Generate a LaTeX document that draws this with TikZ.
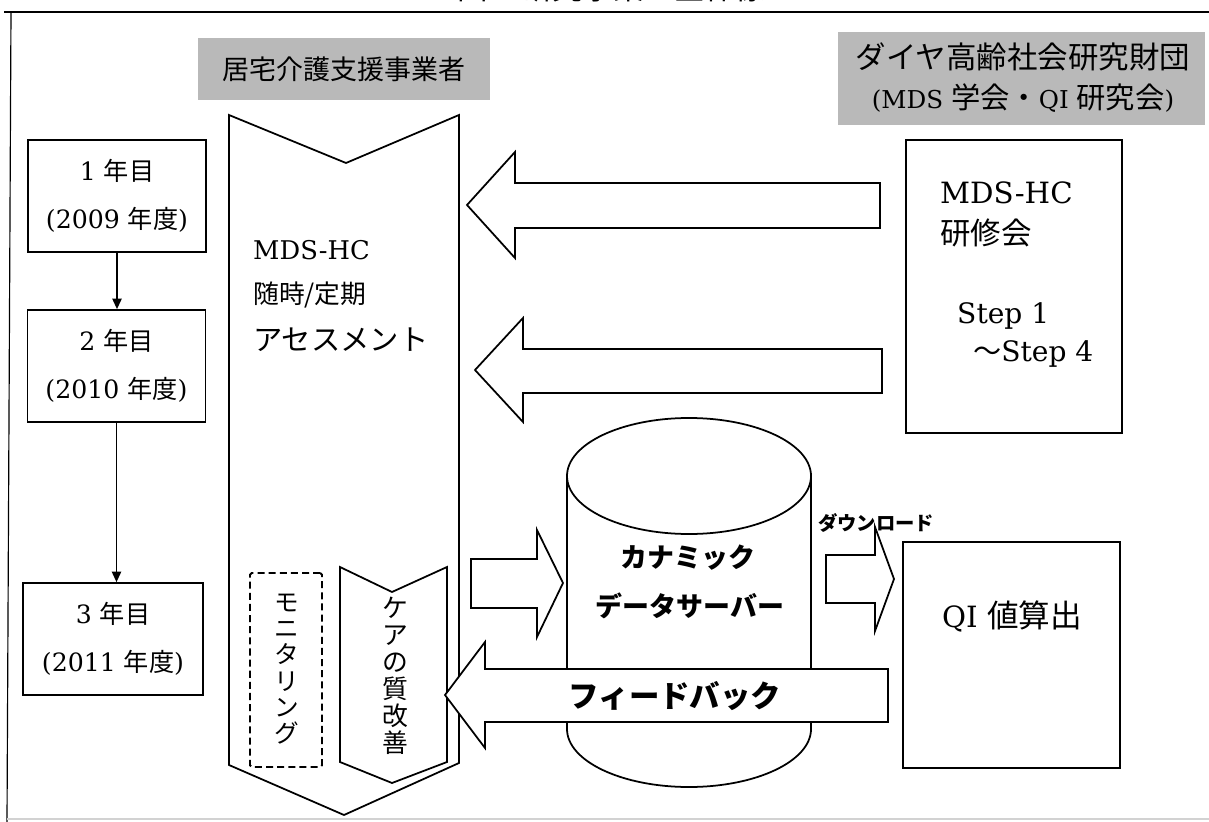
\documentclass[tikz,border=0pt]{standalone}
\usepackage{fontspec}
\setmainfont{DejaVu Serif}
\newfontfamily\jp{Noto Sans CJK JP}
\usetikzlibrary{arrows.meta,calc}
\begin{document}
\begin{tikzpicture}[x=0.03cm,y=-0.03cm,
  ln/.style={line width=1.5pt},
  yearbox/.style={draw, line width=1.5pt, minimum width=5.34cm, minimum height=3.36cm,
    align=center, inner sep=0pt, font=\fontsize{21.5}{41}\selectfont},
  graylabel/.style={fill=gray!55, inner sep=0pt, align=center},
  blockarrow/.style={draw, fill=white, line width=1.5pt, line join=miter},
  plain/.style={inner sep=0pt},
  vtext/.style={inner sep=0pt, align=center},
  flowarrow/.style={line width=1.3pt, -{Triangle[length=9pt,width=8pt]}}
]
\clip (0,0) rectangle (1209,822);
\useasboundingbox (0,0) rectangle (1209,822);
\fill[white] (0,0) rectangle (1209,822);

% title (cut off at top, as in the source)
\node[plain, font=\jp\fontsize{26}{30}\selectfont] (title) at (612,-12) {図\,1\,\ 研究事業の全体像};

% outer frame
\draw[line width=1.2pt] (4,12) -- (1209,12);
\draw[line width=1pt] (11,12) -- (7,822);
\draw[gray!35, line width=1pt] (7,819) -- (1209,819);

% gray headers
\node[graylabel, minimum width=8.76cm, minimum height=1.86cm,
  font=\jp\fontsize{23}{28}\selectfont] (org1) at (344,69) {居宅介護支援事業者};
\node[graylabel, minimum width=11.01cm, minimum height=2.79cm] (org2) at (1021.5,79) {};
\node[plain, font=\jp\fontsize{26}{30}\selectfont] (org2a) at (1023,57) {ダイヤ高齢社会研究財団};
\node[plain, font=\fontsize{21}{28}\selectfont] (org2b) at (1023,98) {(MDS {\jp\fontsize{25}{30}\selectfont 学会・}QI {\jp\fontsize{25}{30}\selectfont 研究会})};

% year boxes
\node[yearbox] (y1) at (117,196) {1 {\jp 年目}\\(2009 {\jp 年度})};
\node[yearbox] (y2) at (116.5,366) {2 {\jp 年目}\\(2010 {\jp 年度})};
\node[yearbox, minimum width=5.4cm] (y3) at (113,639) {3 {\jp 年目}\\(2011 {\jp 年度})};
\draw[flowarrow] (y1.south) -- (y1.south |- y2.north);
\draw[flowarrow] (y2.south) -- (y2.south |- y3.north);

% big chevron
\draw[ln, line join=miter] (229,115) -- (346,163) -- (459,115) -- (459,763) -- (344,815) -- (229,765) -- cycle;
\node[plain, anchor=west, font=\fontsize{22}{28}\selectfont] (a1) at (253,250) {MDS-HC};
\node[plain, anchor=west, font=\jp\fontsize{22}{28}\selectfont] (a2) at (253,295) {随時/定期};
\node[plain, anchor=west, font=\jp\fontsize{25}{28}\selectfont] (a3) at (253,340) {アセスメント};

% monitoring (dashed)
\node[draw, line width=1.6pt, dash pattern=on 6pt off 3.5pt, rounded corners=1.5pt,
  minimum width=2.16cm, minimum height=5.82cm, inner sep=0pt] (moni) at (286,670) {};
\node[vtext, font=\jp\fontsize{21}{22.4}\selectfont] (monit) at (287,669) {モ\\ニ\\タ\\リ\\ン\\グ};

% care quality chevron
\draw[ln, line join=miter] (340,567) -- (392,592) -- (447,567) -- (447,762) -- (392,783) -- (340,762) -- cycle;
\node[vtext, font=\jp\fontsize{22}{23}\selectfont] (care) at (395,676) {ケ\\ア\\の\\質\\改\\善};

% training box
\node[draw, ln, minimum width=6.48cm, minimum height=8.79cm, inner sep=0pt] (train) at (1014,286.5) {};
\node[plain, anchor=west, font=\fontsize{25}{30}\selectfont] (t1) at (940,193) {MDS-HC};
\node[plain, anchor=west, font=\jp\fontsize{26}{30}\selectfont] (t2) at (940,233) {研修会};
\node[plain, anchor=west, font=\fontsize{24}{30}\selectfont] (t3) at (957,316) {Step 1};
\node[plain, anchor=west, font=\fontsize{24}{30}\selectfont] (t4) at (973,354) {{\jp ～}Step 4};

% arrows from training to assessment
\draw[blockarrow] (880,183) -- (515,183) -- (515,152) -- (467,205) -- (515,258) -- (515,228) -- (880,228) -- cycle;
\draw[blockarrow] (882,349) -- (523,349) -- (523,318) -- (475,370) -- (523,422) -- (523,393) -- (882,393) -- cycle;

% cylinder
\fill[white] (567,476) -- (567,729) arc[start angle=180, end angle=360, x radius=3.66cm, y radius=1.74cm] -- (811,476) -- cycle;
\draw[ln] (567,476) -- (567,729) arc[start angle=180, end angle=360, x radius=3.66cm, y radius=1.74cm] -- (811,476);
\draw[ln, fill=white] (689,476) ellipse [x radius=3.66cm, y radius=1.74cm];
\node[plain, font=\jp\bfseries\fontsize{23}{28}\selectfont] (srv1) at (688,558) {カナミック};
\node[plain, font=\jp\bfseries\fontsize{23}{28}\selectfont] (srv2) at (690,606) {データサーバー};

% arrow chevron -> server
\draw[blockarrow] (471,559) -- (537,559) -- (537,530) -- (563,583) -- (537,637) -- (537,608) -- (471,608) -- cycle;

% feedback arrow
\draw[blockarrow] (888,669) -- (485,669) -- (485,642) -- (445,695) -- (485,748) -- (485,722) -- (888,722) -- cycle;
\node[plain, font=\jp\bfseries\fontsize{26}{30}\selectfont] (fb) at (675,696) {フィードバック};

% download arrow
\draw[blockarrow] (826,555) -- (875,555) -- (875,527) -- (894,579) -- (875,631) -- (875,603) -- (826,603) -- cycle;
\node[plain, font=\jp\bfseries\fontsize{16.5}{20}\selectfont] (dl) at (876,523) {ダウンロード};

% QI box
\node[draw, ln, minimum width=6.51cm, minimum height=6.78cm, inner sep=0pt] (qi) at (1011.5,655) {};
\node[plain, font=\fontsize{25}{30}\selectfont] (qit) at (1012,616) {QI {\jp\fontsize{27}{30}\selectfont 値算出}};
\end{tikzpicture}
\end{document}
